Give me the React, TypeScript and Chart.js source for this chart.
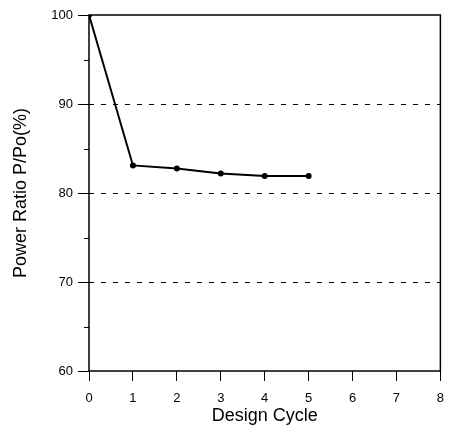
import React, { useEffect, useRef } from "react";
import { Chart, registerables } from "chart.js";

Chart.register(...registerables);

const cycles = [0, 1, 2, 3, 4, 5];
const powerRatio = [100, 83.1, 82.75, 82.2, 81.9, 81.9];
const gridValues = [70, 80, 90];
const minorYTicks = [65, 75, 85, 95];

const FONT = "'Liberation Sans', Arial, sans-serif";

const framePlugin = {
  id: "frame",
  afterDraw(chart: any) {
    const { ctx, chartArea } = chart;
    const y = chart.scales.y;
    ctx.save();
    ctx.strokeStyle = "#000";
    ctx.lineWidth = 1.5;
    ctx.strokeRect(chartArea.left, chartArea.top, chartArea.right - chartArea.left, chartArea.bottom - chartArea.top);
    ctx.lineWidth = 1;
    minorYTicks.forEach((v) => {
      const py = Math.round(y.getPixelForValue(v)) + 0.5;
      ctx.beginPath();
      ctx.moveTo(chartArea.left - 5, py);
      ctx.lineTo(chartArea.left, py);
      ctx.stroke();
    });
    ctx.restore();
  },
};

export default function App() {
  const ref = useRef<HTMLCanvasElement | null>(null);
  useEffect(() => {
    if (!ref.current) return;
    const chart = new Chart(ref.current, {
      type: "line",
      data: {
        datasets: [
          {
            data: cycles.map((c, i) => ({ x: c, y: powerRatio[i] })),
            borderColor: "#000",
            backgroundColor: "#000",
            borderWidth: 2,
            pointRadius: 3,
            pointBackgroundColor: "#000",
            pointBorderWidth: 0,
            tension: 0,
          },
        ],
      },
      options: {
        animation: false,
        responsive: false,
        maintainAspectRatio: false,
        layout: { padding: { top: 15, right: 13, left: 0, bottom: 0 } },
        plugins: { legend: { display: false }, tooltip: { enabled: false } },
        scales: {
          x: {
            type: "linear",
            min: 0,
            max: 8,
            afterFit: (s: any) => {
              s.height = 59;
            },
            ticks: { stepSize: 1, color: "#000", font: { family: FONT, size: 13 }, padding: 10 },
            grid: { display: true, drawOnChartArea: false, color: "#000", tickLength: 10, lineWidth: 1 },
            border: { display: false },
            title: {
              display: true,
              text: "Design Cycle",
              color: "#000",
              font: { family: FONT, size: 18 },
              padding: { top: 0, bottom: 3 },
            },
          },
          y: {
            type: "linear",
            min: 60,
            max: 100,
            afterFit: (s: any) => {
              s.width = 89;
            },
            ticks: {
              stepSize: 5,
              color: "#000",
              font: { family: FONT, size: 13 },
              padding: 5,
              callback: (v: any) => (Number(v) % 10 === 0 ? String(v) : ""),
            },
            grid: {
              display: true,
              drawOnChartArea: true,
              tickLength: 11,
              color: (c: any) => (gridValues.includes(c.tick?.value) ? "#000" : "rgba(0,0,0,0)"),
              tickColor: (c: any) => (c.tick && c.tick.value % 10 === 0 ? "#000" : "rgba(0,0,0,0)"),
              lineWidth: 1,
            },
            border: { display: false, dash: [5, 7] },
            title: {
              display: true,
              text: "Power Ratio P/Po(%)",
              color: "#000",
              font: { family: FONT, size: 18 },
              padding: { top: 10, bottom: 0 },
            },
          },
        },
      },
      plugins: [framePlugin],
    } as any);
    return () => chart.destroy();
  }, []);
  return (
    <div style={{ position: "fixed", left: 0, top: 0, width: 454, height: 430, background: "#fff" }}>
      <canvas ref={ref} width={454} height={430} style={{ width: 454, height: 430 }} />
    </div>
  );
}
